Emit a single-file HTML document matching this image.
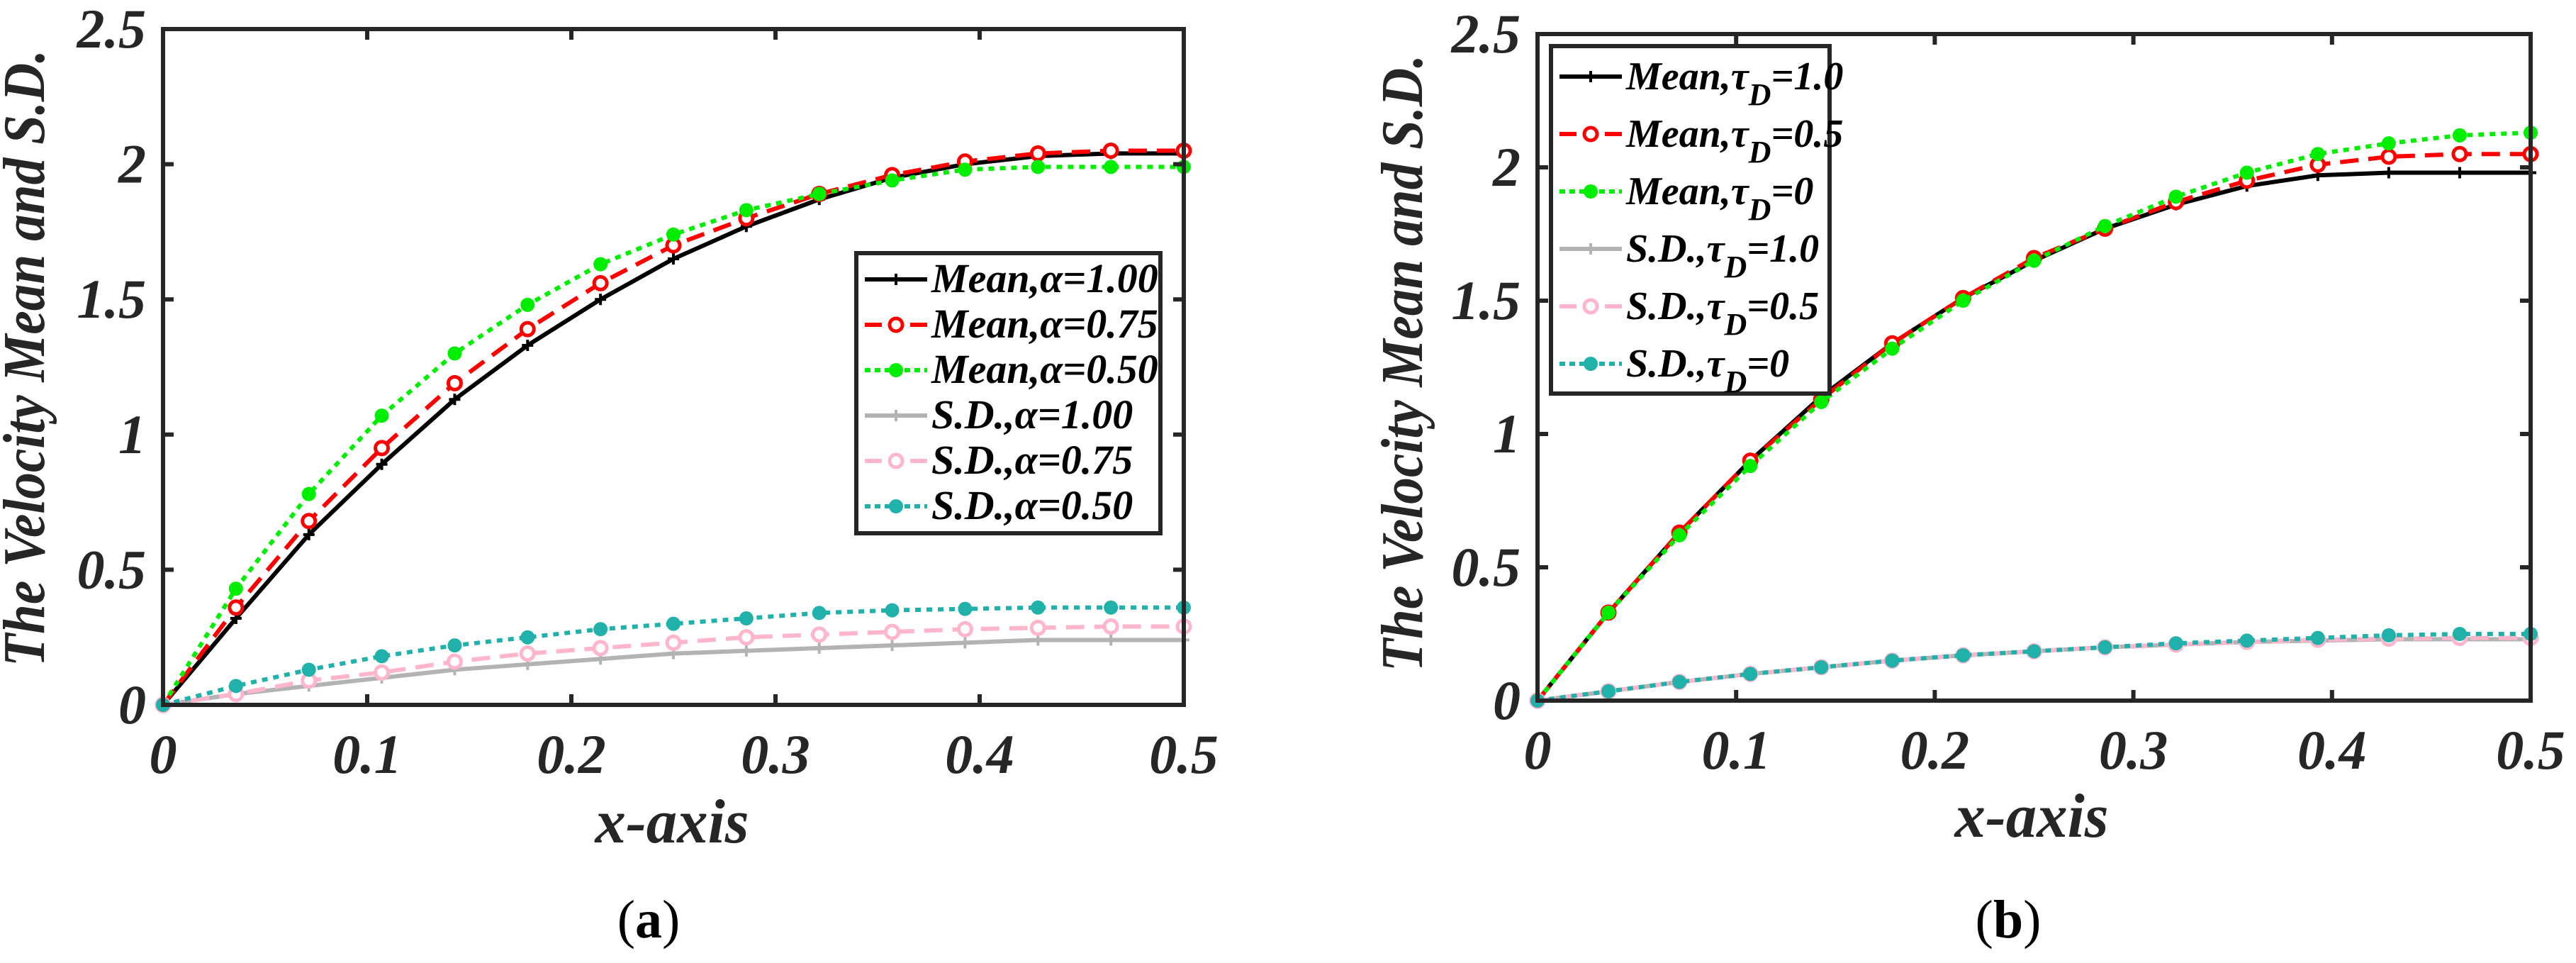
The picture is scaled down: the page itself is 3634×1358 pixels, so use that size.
<!DOCTYPE html>
<html><head><meta charset="utf-8"><style>
html,body{margin:0;padding:0;background:#fff;}
svg{display:block;font-family:"Liberation Serif","Times New Roman",serif;}
svg text{font-family:"Liberation Serif","Times New Roman",serif;}
</style></head><body>
<svg id="fig" width="3634" height="1358" viewBox="0 0 3634 1358" xmlns="http://www.w3.org/2000/svg" font-family="Liberation Serif, serif"></svg>
<script>
const xVals=[0,1/28,2/28,3/28,4/28,5/28,6/28,7/28,8/28,9/28,10/28,11/28,12/28,13/28,14/28];
const xTicks=[0,0.1,0.2,0.3,0.4,0.5];
const xTickLabels=["0","0.1","0.2","0.3","0.4","0.5"];
const yTicks=[0,0.5,1,1.5,2,2.5];
const yTickLabels=["0","0.5","1","1.5","2","2.5"];
// panel a
const aMean100=[0,0.32,0.63,0.89,1.13,1.33,1.50,1.65,1.77,1.87,1.95,2.00,2.03,2.04,2.04];
const aMean075=[0,0.36,0.68,0.95,1.19,1.39,1.56,1.70,1.80,1.89,1.96,2.01,2.04,2.05,2.05];
const aMean050=[0,0.43,0.78,1.07,1.30,1.48,1.63,1.74,1.83,1.89,1.94,1.98,1.99,1.99,1.99];
const aSD100=[0,0.04,0.07,0.10,0.13,0.15,0.17,0.19,0.20,0.21,0.22,0.23,0.24,0.24,0.24];
const aSD075=[0,0.04,0.09,0.12,0.16,0.19,0.21,0.23,0.25,0.26,0.27,0.28,0.285,0.29,0.29];
const aSD050=[0,0.07,0.13,0.18,0.22,0.25,0.28,0.30,0.32,0.34,0.35,0.355,0.36,0.36,0.36];
// panel b
const bMean10=[0,0.33,0.63,0.90,1.14,1.34,1.51,1.65,1.77,1.86,1.93,1.97,1.98,1.98,1.98];
const bMean05=[0,0.33,0.63,0.90,1.13,1.34,1.51,1.66,1.77,1.87,1.95,2.01,2.04,2.05,2.05];
const bMean0=[0,0.33,0.62,0.88,1.12,1.32,1.50,1.65,1.78,1.89,1.98,2.05,2.09,2.12,2.13];
const bSD10=[0,0.035,0.07,0.10,0.125,0.15,0.17,0.185,0.20,0.21,0.22,0.225,0.23,0.23,0.23];
const bSD05=[0,0.035,0.07,0.10,0.125,0.15,0.17,0.185,0.20,0.21,0.22,0.228,0.232,0.235,0.235];
const bSD0=[0,0.035,0.07,0.10,0.125,0.15,0.17,0.185,0.20,0.215,0.225,0.235,0.245,0.25,0.25];

const NS="http://www.w3.org/2000/svg";
const FF="Liberation Serif, Times New Roman, serif";
const svg=document.getElementById('fig');
function mk(tag,attrs,parent){const e=document.createElementNS(NS,tag);for(const k in attrs)e.setAttribute(k,attrs[k]);if(tag==='text')e.setAttribute('font-family',FF);(parent||svg).appendChild(e);return e;}

const styles={
 black:{c:"#000000",dash:"",m:"plus"},
 red:{c:"#ff0000",dash:"26 14",m:"circle"},
 green:{c:"#00ee00",dash:"8 8",m:"dot"},
 gray:{c:"#b3b3b3",dash:"",m:"plus"},
 pink:{c:"#ffb6cb",dash:"26 14",m:"circle"},
 cyan:{c:"#20b2aa",dash:"8 8",m:"dot"}
};

function marker(g,type,x,y,c){
 if(type==="plus"){
  mk('line',{x1:x-8,y1:y,x2:x+8,y2:y,stroke:c,'stroke-width':4},g);
  mk('line',{x1:x,y1:y-8,x2:x,y2:y+8,stroke:c,'stroke-width':4},g);
 }else if(type==="circle"){
  mk('circle',{cx:x,cy:y,r:9,fill:"#fff",stroke:c,'stroke-width':5},g);
 }else{
  mk('circle',{cx:x,cy:y,r:10,fill:c},g);
 }
}

function panel(P){
 const X=v=>P.x0+(v-0)/(0.5)*(P.x1-P.x0);
 const Y=v=>P.y1-(v/2.5)*(P.y1-P.y0);
 const g=mk('g',{});
 
 
 P.series.forEach(s=>{
  const st=styles[s.style];
  const sg=mk('g',{},g);
  
  
  const pts=xVals.map((xv,i)=>X(xv)+","+Y(s.data[i])).join(" ");
  const attrs={points:pts,fill:"none",stroke:st.c,'stroke-width':6};
  if(st.dash)attrs['stroke-dasharray']=st.dash;
  mk('polyline',attrs,sg);
  xVals.forEach((xv,i)=>marker(sg,st.m,X(xv),Y(s.data[i]),st.c));
 });
 const ax=mk('g',{},g);
 
 
 mk('rect',{x:P.x0,y:P.y0,width:P.x1-P.x0,height:P.y1-P.y0,fill:"none",stroke:"#262626",'stroke-width':6},ax);
 xTicks.forEach((t,i)=>{
  const x=X(t);
  mk('line',{x1:x,y1:P.y1,x2:x,y2:P.y1-15,stroke:"#262626",'stroke-width':6},ax);
  mk('line',{x1:x,y1:P.y0,x2:x,y2:P.y0+15,stroke:"#262626",'stroke-width':6},ax);
  const tx=mk('text',{x:x,y:P.y1+96,'text-anchor':'middle','font-size':78,'font-weight':'bold','font-style':'italic',fill:"#262626"},ax);
  tx.textContent=xTickLabels[i];
  
  
 });
 yTicks.forEach((t,i)=>{
  const y=Y(t);
  mk('line',{x1:P.x0,y1:y,x2:P.x0+15,y2:y,stroke:"#262626",'stroke-width':6},ax);
  mk('line',{x1:P.x1,y1:y,x2:P.x1-15,y2:y,stroke:"#262626",'stroke-width':6},ax);
  const tx=mk('text',{x:P.x0-24,y:y+26,'text-anchor':'end','font-size':78,'font-weight':'bold','font-style':'italic',fill:"#262626"},ax);
  tx.textContent=yTickLabels[i];
  
  
 });
 const yt=mk('text',{x:0,y:0,transform:`translate(${P.ytx},${P.yty}) rotate(-90)`,'text-anchor':'middle','font-size':84,'font-weight':'bold','font-style':'italic',fill:"#262626",textLength:870,lengthAdjust:'spacingAndGlyphs'},g);
 yt.textContent="The Velocity Mean and S.D.";
 
 
 const xt=mk('text',{x:P.xtx,y:P.xty,'text-anchor':'middle','font-size':88,'font-weight':'bold','font-style':'italic',fill:"#262626",textLength:217,lengthAdjust:'spacingAndGlyphs'},g);
 xt.textContent="x-axis";
 
 
 const cap=mk('text',{x:P.capx,y:1322,'text-anchor':'middle','font-size':76,fill:"#000"},g);
 cap.innerHTML='(<tspan font-weight="bold">'+P.cap+'</tspan>)';
 
 
 const L=P.legend;
 const lg=mk('g',{},g);
 
 
 mk('rect',{x:L.x,y:L.y,width:L.w,height:L.h,fill:"#fff",stroke:"#262626",'stroke-width':6},lg);
 P.series.forEach((s,i)=>{
  const st=styles[s.style];
  const cy=L.r0+i*L.dy;
  const e=mk('g',{},lg);
  
  
  const la={x1:L.x+12,y1:cy,x2:L.x+100,y2:cy,stroke:st.c,'stroke-width':6};
  if(st.dash)la['stroke-dasharray']=st.m==="circle"?"24 40 24":"8 6";
  mk('line',la,e);
  marker(e,st.m,L.x+56,cy,st.c);
  const t=mk('text',{x:L.x+106,y:cy+18,'font-size':L.fs,'font-weight':'bold','font-style':'italic',fill:"#000"},e);
  t.innerHTML=s.label;
 });
}

panel({name:'panel-a',x0:230,x1:1670,y0:41,y1:994,ytx:62,yty:505,xtx:948,xty:1188,capx:915,cap:'a',
 series:[{id:'mean-alpha-1.00',style:'black',data:aMean100,label:'Mean,α=1.00'},
  {id:'mean-alpha-0.75',style:'red',data:aMean075,label:'Mean,α=0.75'},
  {id:'mean-alpha-0.50',style:'green',data:aMean050,label:'Mean,α=0.50'},
  {id:'sd-alpha-1.00',style:'gray',data:aSD100,label:'S.D.,α=1.00'},
  {id:'sd-alpha-0.75',style:'pink',data:aSD075,label:'S.D.,α=0.75'},
  {id:'sd-alpha-0.50',style:'cyan',data:aSD050,label:'S.D.,α=0.50'}],
 legend:{x:1208,y:357,w:429,h:395,r0:394,dy:64,fs:58}});

panel({name:'panel-b',x0:2169,x1:3570,y0:48,y1:988,ytx:2006,yty:512,xtx:2866,xty:1180,capx:2833,cap:'b',
 series:[{id:'mean-tau-1.0',style:'black',data:bMean10,label:'Mean,τ<tspan dy="22" font-size="44">D</tspan><tspan dy="-22">=1.0</tspan>'},
  {id:'mean-tau-0.5',style:'red',data:bMean05,label:'Mean,τ<tspan dy="22" font-size="44">D</tspan><tspan dy="-22">=0.5</tspan>'},
  {id:'mean-tau-0',style:'green',data:bMean0,label:'Mean,τ<tspan dy="22" font-size="44">D</tspan><tspan dy="-22">=0</tspan>'},
  {id:'sd-tau-1.0',style:'gray',data:bSD10,label:'S.D.,τ<tspan dy="22" font-size="44">D</tspan><tspan dy="-22">=1.0</tspan>'},
  {id:'sd-tau-0.5',style:'pink',data:bSD05,label:'S.D.,τ<tspan dy="22" font-size="44">D</tspan><tspan dy="-22">=0.5</tspan>'},
  {id:'sd-tau-0',style:'cyan',data:bSD0,label:'S.D.,τ<tspan dy="22" font-size="44">D</tspan><tspan dy="-22">=0</tspan>'}],
 legend:{x:2188,y:65,w:393,h:490,r0:108,dy:81,fs:56}});
</script>
</body></html>
